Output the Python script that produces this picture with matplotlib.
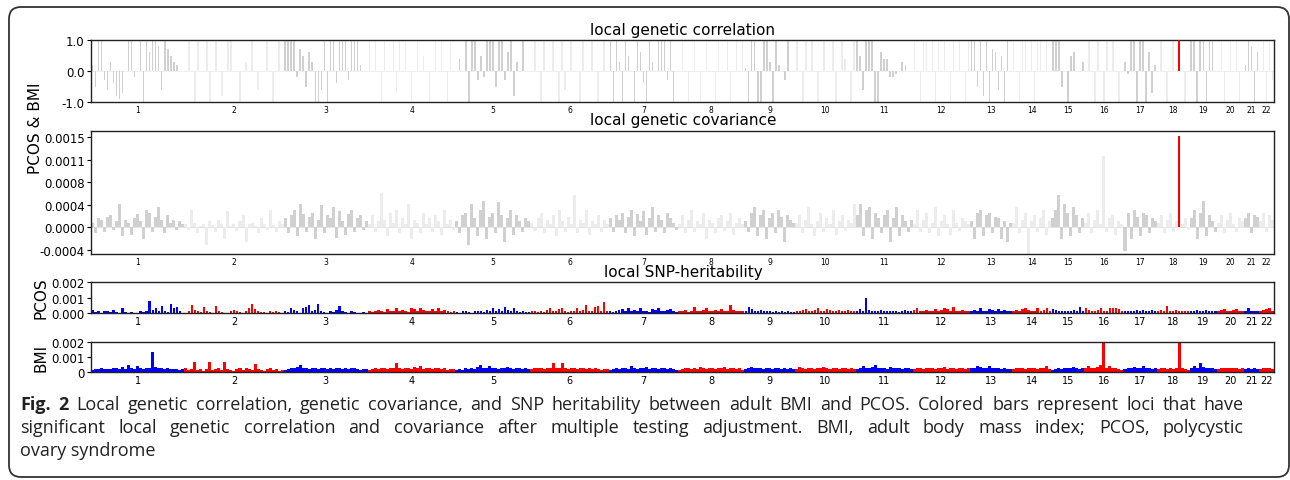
import numpy as np
import matplotlib.pyplot as plt
from matplotlib.patches import FancyBboxPatch
from matplotlib.transforms import IdentityTransform

chroms = [str(i) for i in range(1, 23)]

# local genetic correlation PCOS & BMI, in tenths, one list per chromosome
rho = [
    [2, -5, 10, 10, -3, -6, 3, -4, -8, -9, -7, 0, 10, 10, -2, 0, 10, -10, 10, 6, 10, 10, 8, -6, 10, 7, 5, 3, 2, 0, 0],
    [0, 10, 0, -10, 10, 0, 0, 10, -10, 0, 10, 0, -8, 0, 10, 10, 0, 0, -10, 0, 3, 0, 10, 0, -6, 0, 0, 10, 0, -10, 0, 10, 0],
    [10, 10, 10, 10, -2, 7, 5, -5, 6, 3, -10, -10, -6, 10, -10, 10, 10, -4, 10, 10, 10, -3, 10, 10, 10, 2, 0, 0],
    [10, 0, 10, 0, -10, 10, 0, 0, 10, -7, 10, 0, 10, 0, -10, 0, 10, 0, 5, 0, -10, 0, 10, 0, 10, 0, -10, 10, 0],
    [0, 4, 0, 10, -10, 10, 10, -3, 5, -2, 10, 10, 10, -5, 10, 10, -3, 6, 10, -8, 3, 0, 10, 0, 0],
    [0, 10, 0, -10, 10, 0, 0, 10, 0, -10, 10, -6, 0, 10, 0, 0, -10, 10, 0, 0, 10, 0, -10, 0, 10, 0],
    [10, -10, 10, 3, -10, 10, 5, 0, -10, 10, 6, -4, -10, 10, 3, 0, 10, 10, 10, -3, 10, -10, 0],
    [0, 10, 0, -10, 0, 10, 0, -10, 0, 10, 0, 0, -10, 10, 0, 0, 10, -10, 0, 10, 0, 10],
    [1, -10, 10, 10, -10, -10, 10, 10, 3, -10, 10, 2, 0, -3, 10, 0, 0],
    [10, 0, -10, 10, 0, 10, 0, -10, 0, 10, 0, 0, 10, -10, 0, 10, 4, 0, -10, 10],
    [10, 5, -6, 10, 10, 10, -10, -10, 6, 4, 4, -2, -2, -1, 0, 3, 2, 0, 0],
    [10, 0, -10, 10, 10, 0, 10, -10, 10, 0, 10, 0, -10, 10, 0, 10, 0, -10, 10],
    [10, 10, -5, 10, -8, 10, -10, 7, 6, -6, 5, -10, 10, 0],
    [10, 0, -10, 10, 10, 0, 10, -10, 10, 10, 0, 10, 0],
    [10, 10, 10, -5, 0, -10, 5, 6, 0, 0, 3],
    [0, 10, 0, -10, 10, 0, -10, 10, 0, 10, 0, -10, 0],
    [3, -1, 10, 10, -10, 10, 10, -10, 6, -7, 2],
    [0, 10, 0, -10, 0, 10, 0, 10, 0, -10, 0],
    [10, 10, -10, 10, 10, -10, 10, 10, 0],
    [0, 10, -10, 0, 10, 0, 10, -10, 0],
    [2, 10, 8, -10, 6],
    [0, 10, -10, 10, -3],
]

# local genetic covariance, x 1e-5
cov = [
    [8, -10, 15, 12, -8, 18, 20, -5, 10, 40, -15, 12, 8, -12, 15, 22, 10, -20, 30, 25, -8, 18, 35, 12, -10, 20, 8, 12, -5, 10, 6],
    [5, -5, 30, 8, -10, 3, 6, -30, 10, 4, -8, 12, 5, -20, 28, 3, 6, -6, 10, 20, -25, 5, 8, 3, -10, 15, 6, -5, 30, 4, -8, 10, 5],
    [15, -10, 20, 30, -15, 40, 22, -8, 18, 25, -20, 12, 38, -10, 20, 15, 35, -18, 28, 10, -12, 22, 30, -8, 15, 20, -5, 10],
    [5, 20, -8, 10, 58, 12, -15, 25, 8, 30, -10, 15, 6, 40, -20, 12, 8, -10, 25, 5, 15, -8, 20, 10, -12, 30, 6, 12, -5],
    [10, -10, 20, 25, -30, 40, 15, -15, 30, 45, -20, 18, 25, -10, 42, 20, -25, 15, 30, -12, 20, 10, -8, 15, 10],
    [8, -6, 15, 25, -10, 12, 5, 20, -15, 30, 10, -8, 18, 6, 55, -10, 12, 8, 30, -12, 10, 5, 20, -8, 12, 6],
    [15, -8, 20, 12, 25, -10, 18, 30, -15, 22, 10, 28, -12, 15, 35, -8, 20, 12, -10, 25, 15, 8, -5],
    [6, 20, -10, 12, 30, -8, 10, 5, 25, -20, 12, 8, -10, 15, 20, -6, 10, 25, -12, 8, 15, 5],
    [10, -8, 25, 35, -15, 20, 30, -20, 15, 25, -10, 30, 18, -25, 20, 12, 8],
    [8, 20, -10, 12, 35, 5, -15, 10, 25, -8, 15, 6, 30, -12, 10, 20, -6, 12, 8, 40],
    [20, 40, -15, 30, 35, -20, 25, 15, -10, 20, 30, -25, 15, 35, -15, 20, 10, -8, 12],
    [6, 30, -8, 12, 25, -10, 8, 35, -15, 10, 20, 6, -12, 30, 8, -6, 15, 10, 5],
    [10, -20, 25, 30, -15, 20, 25, -10, 18, 15, -20, 10, -25, 8],
    [8, 35, -10, 12, 25, -45, 10, 20, -8, 15, 30, -12, 10],
    [15, 30, 55, -20, 40, 25, -15, 35, 20, -10, 15],
    [8, 25, -10, 12, 30, 6, 120, -8, 15, 20, -12, 10, 6],
    [-40, 25, -20, 30, 18, -15, 25, 20, -10, 15, 10],
    [8, 20, -10, 12, 25, -8, 10, 153, 6, 15, -5],
    [15, 30, -20, 25, 45, -15, 20, 10, -8],
    [8, 20, -10, 12, 25, 6, -8, 15, 10],
    [15, 25, -10, 20, 18],
    [10, 25, -8, 20, 12],
]

# local SNP heritability, x 1e-5
h2_pcos = [
    [20, 5, 15, 0, 12, 10, 5, 20, 8, 0, 30, 5, 0, 8, 3, 0, 10, 6, 15, 75, 20, 35, 10, 45, 15, 8, 55, 30, 40, 10, 0],
    [0, 15, 50, 20, 10, 5, 40, 15, 8, 0, 45, 10, 5, 3, 0, 15, 20, 10, 5, 0, 10, 30, 55, 25, 15, 5, 8, 0, 10, 5, 12, 8, 3],
    [10, 5, 35, 20, 10, 0, 30, 40, 50, 15, 20, 60, 10, 5, 0, 10, 8, 20, 45, 10, 5, 0, 10, 8, 3, 0, 5, 0],
    [10, 5, 15, 20, 10, 5, 25, 15, 10, 30, 15, 20, 10, 5, 30, 25, 10, 35, 20, 15, 10, 25, 10, 30, 15, 20, 10, 5, 15],
    [5, 0, 10, 15, 8, 0, 10, 12, 15, 8, 20, 10, 35, 15, 25, 10, 40, 20, 10, 30, 15, 5, 10, 8, 5],
    [10, 15, 8, 12, 5, 20, 30, 15, 10, 25, 35, 10, 5, 15, 10, 30, 15, 20, 50, 15, 10, 40, 45, 15, 70, 10],
    [10, 5, 15, 20, 25, 10, 35, 15, 20, 10, 30, 15, 10, 5, 25, 20, 30, 15, 10, 20, 25, 15, 8],
    [15, 10, 20, 5, 10, 40, 10, 15, 20, 35, 10, 15, 20, 10, 25, 15, 10, 50, 20, 15, 10, 15],
    [15, 40, 25, 10, 15, 20, 10, 15, 10, 5, 15, 8, 10, 5, 10, 8, 5],
    [15, 10, 20, 25, 15, 10, 20, 30, 15, 10, 25, 20, 15, 10, 20, 15, 10, 20, 15, 10],
    [15, 25, 10, 100, 20, 15, 10, 15, 20, 10, 15, 10, 15, 10, 8, 15, 20, 15, 10],
    [20, 30, 15, 10, 20, 15, 10, 25, 10, 20, 35, 25, 15, 40, 15, 10, 20, 10, 15],
    [15, 20, 10, 35, 15, 10, 25, 20, 10, 25, 15, 20, 10, 15],
    [10, 20, 15, 25, 35, 20, 15, 10, 30, 15, 20, 30, 15],
    [25, 20, 15, 10, 15, 10, 15, 20, 10, 40, 15],
    [30, 20, 10, 15, 20, 30, 15, 10, 30, 35, 30, 25, 15],
    [15, 10, 15, 10, 20, 15, 20, 10, 15, 20, 15],
    [10, 20, 15, 45, 10, 15, 20, 15, 10, 15, 10],
    [15, 10, 20, 15, 10, 20, 15, 10, 15],
    [15, 20, 25, 15, 10, 20, 25, 15, 10],
    [10, 30, 10, 15, 10],
    [15, 20, 25, 30, 15],
]

h2_bmi = [
    [15, 20, 18, 25, 20, 22, 18, 30, 25, 20, 35, 22, 45, 25, 20, 40, 28, 20, 30, 25, 135, 35, 28, 30, 20, 25, 22, 18, 20, 15, 18],
    [30, 15, 20, 65, 15, 20, 10, 18, 70, 15, 20, 25, 15, 65, 20, 15, 10, 20, 25, 15, 30, 20, 15, 55, 20, 15, 10, 20, 25, 15, 20, 10, 15],
    [15, 20, 25, 30, 35, 45, 30, 25, 20, 30, 25, 20, 25, 30, 20, 25, 20, 25, 30, 20, 25, 20, 25, 30, 20, 15, 20, 18],
    [15, 20, 25, 20, 30, 25, 20, 25, 30, 60, 25, 20, 30, 25, 20, 35, 25, 40, 20, 30, 25, 20, 25, 30, 20, 25, 15, 20, 18],
    [15, 20, 15, 25, 20, 30, 20, 35, 45, 30, 25, 40, 30, 25, 20, 30, 25, 35, 25, 20, 30, 25, 20, 25, 20],
    [20, 25, 30, 25, 20, 30, 25, 60, 30, 25, 60, 25, 20, 30, 25, 20, 25, 30, 20, 25, 20, 25, 20, 15, 20, 18],
    [15, 20, 25, 20, 30, 25, 20, 40, 25, 20, 30, 25, 35, 20, 25, 30, 20, 25, 30, 20, 25, 20, 15],
    [15, 20, 25, 30, 20, 25, 20, 35, 25, 20, 30, 25, 20, 30, 25, 35, 20, 25, 30, 20, 25, 15],
    [20, 25, 35, 25, 30, 25, 20, 30, 25, 20, 30, 25, 20, 25, 20, 25, 18],
    [20, 35, 25, 20, 30, 25, 20, 30, 25, 35, 25, 20, 30, 25, 20, 30, 25, 20, 25, 20],
    [20, 25, 40, 30, 25, 35, 45, 30, 25, 30, 20, 35, 25, 30, 25, 20, 30, 25, 20],
    [20, 25, 30, 20, 25, 30, 25, 20, 30, 25, 35, 20, 30, 25, 20, 30, 25, 20, 25],
    [25, 30, 40, 35, 25, 30, 40, 30, 25, 30, 20, 25, 20, 18],
    [20, 25, 30, 25, 20, 30, 25, 30, 20, 25, 30, 40, 20],
    [15, 20, 25, 20, 25, 30, 25, 35, 25, 20, 30],
    [25, 40, 30, 25, 35, 50, 250, 30, 40, 30, 25, 20, 15],
    [20, 25, 30, 35, 25, 30, 40, 25, 30, 20, 25],
    [20, 25, 30, 20, 25, 20, 25, 250, 25, 20, 15],
    [25, 40, 30, 60, 35, 25, 30, 25, 20],
    [20, 25, 30, 25, 30, 25, 30, 20, 25],
    [20, 25, 20, 25, 20],
    [20, 25, 30, 25, 20],
]

# locus with significant local rho / covariance
sig_chrom = 18
sig_locus = 7

caption_bold = "Fig. 2"
caption = [
    "Local genetic correlation, genetic covariance, and SNP heritability between adult BMI and PCOS. Colored bars represent loci that have",
    "significant local genetic correlation and covariance after multiple testing adjustment. BMI, adult body mass index; PCOS, polycystic",
    "ovary syndrome",
]

# chromosome spans along the x axis
n_per_chrom = np.array([len(v) for v in rho])
starts = np.concatenate([[0], np.cumsum(n_per_chrom)[:-1]])
total = n_per_chrom.sum()
centers = starts + n_per_chrom / 2


def positions(vals, ci):
    step = n_per_chrom[ci] / len(vals)
    return starts[ci] + (np.arange(len(vals)) + 0.5) * step, step


def draw_bars(ax, data, scale, colors, width, sig=False):
    for ci, vals in enumerate(data):
        x, step = positions(vals, ci)
        ax.bar(x, np.array(vals) * scale, width=width * step,
               color=colors[ci % 2], linewidth=0)
    if sig:
        vals = data[sig_chrom - 1]
        x, step = positions(vals, sig_chrom - 1)
        ax.bar(x[sig_locus], vals[sig_locus] * scale, width=0.75 * step,
               color='red', linewidth=0, zorder=3)


def style(ax, chrom_fs):
    ax.set_xlim(0, total)
    ax.set_xticks(centers)
    ax.set_xticklabels(chroms, fontsize=chrom_fs)
    ax.tick_params(axis='x', length=0, pad=2)
    ax.tick_params(axis='y', labelsize=8.5, length=3, width=0.8, pad=1.5)
    for s in ax.spines.values():
        s.set_linewidth(1.0)
        s.set_color('#222222')


W, H = 1290, 481
fig = plt.figure(figsize=(W / 100, H / 100), dpi=100)
fig.patch.set_facecolor('white')


def px_axes(top, bottom, left=91, right=1274):
    return fig.add_axes([left / W, 1 - bottom / H, (right - left) / W, (bottom - top) / H])


grays = ['#d0d0d0', '#ececec']
rb = ['#0000ff', '#ff0000']

# local genetic correlation
ax1 = px_axes(41, 103)
ax1.axhline(0, color='#ececec', lw=0.6, zorder=0)
draw_bars(ax1, rho, 0.1, grays, 0.5, sig=True)
ax1.set_ylim(-1, 1)
ax1.set_yticks([-1, 0, 1])
ax1.set_yticklabels(['-1.0', '0.0', '1.0'])
style(ax1, 5.5)

# local genetic covariance
ax2 = px_axes(132, 255)
ax2.axhline(0, color='#e4e4e4', lw=0.8, zorder=0)
draw_bars(ax2, cov, 1e-5, grays, 1.0, sig=True)
ax2.set_ylim(-0.000447, 0.00162)
cov_ticks = np.arange(-1, 5) * 0.00038
ax2.set_yticks(cov_ticks)
ax2.set_yticklabels([f'{t:.4f}' for t in cov_ticks])
style(ax2, 5.5)

# local SNP heritability
ax3 = px_axes(283, 314)
draw_bars(ax3, h2_pcos, 1e-5, rb, 0.8)
ax3.set_ylim(0, 0.002)
ax3.set_yticks([0, 0.001, 0.002])
ax3.set_yticklabels(['0.000', '0.001', '0.002'])
style(ax3, 7)

ax4 = px_axes(343, 373)
draw_bars(ax4, h2_bmi, 1e-5, rb, 1.0)
ax4.set_ylim(0, 0.002)
ax4.set_yticks([0, 0.001, 0.002])
ax4.set_yticklabels(['0', '0.001', '0.002'])
style(ax4, 7)

cx = 683 / W
fig.text(cx, 1 - 31 / H, 'local genetic correlation', ha='center', va='center', fontsize=11)
fig.text(cx, 1 - 120 / H, 'local genetic covariance', ha='center', va='center', fontsize=11)
fig.text(cx, 1 - 273 / H, 'local SNP-heritability', ha='center', va='center', fontsize=11)

fig.text(36 / W, 1 - 128 / H, 'PCOS & BMI', rotation=90, ha='center', va='center', fontsize=11)
fig.text(41 / W, 1 - 298 / H, 'PCOS', rotation=90, ha='center', va='center', fontsize=11)
fig.text(41 / W, 1 - 358 / H, 'BMI', rotation=90, ha='center', va='center', fontsize=11)

# caption, first two lines justified like the journal layout
cap_fs = 13
cap_kw = dict(fontsize=cap_fs, family='Open Sans', va='baseline', color='#222222')
renderer = fig.canvas.get_renderer()


def place_line(words, y_px, x0=20, x1=1244):
    texts = [fig.text(0, 1 - y_px / H, w, fontweight=wt, **cap_kw) for w, wt in words]
    widths = [t.get_window_extent(renderer).width for t in texts]
    gap = (x1 - x0 - sum(widths)) / (len(words) - 1)
    x = x0
    for t, w in zip(texts, widths):
        t.set_x(x / W)
        x += w + gap


line1 = [(w, 'bold') for w in caption_bold.split()] + [(w, 'normal') for w in caption[0].split()]
place_line(line1, 410)
place_line([(w, 'normal') for w in caption[1].split()], 433)
fig.text(20 / W, 1 - 456 / H, caption[2], **cap_kw)

# rounded frame around the figure
frame = FancyBboxPatch((9, 3), 1280, 470, boxstyle='round,pad=0,rounding_size=12',
                       transform=IdentityTransform(), fill=False, edgecolor='#333333',
                       linewidth=1.3)
fig.add_artist(frame)

fig.savefig('out.png', dpi=100)
